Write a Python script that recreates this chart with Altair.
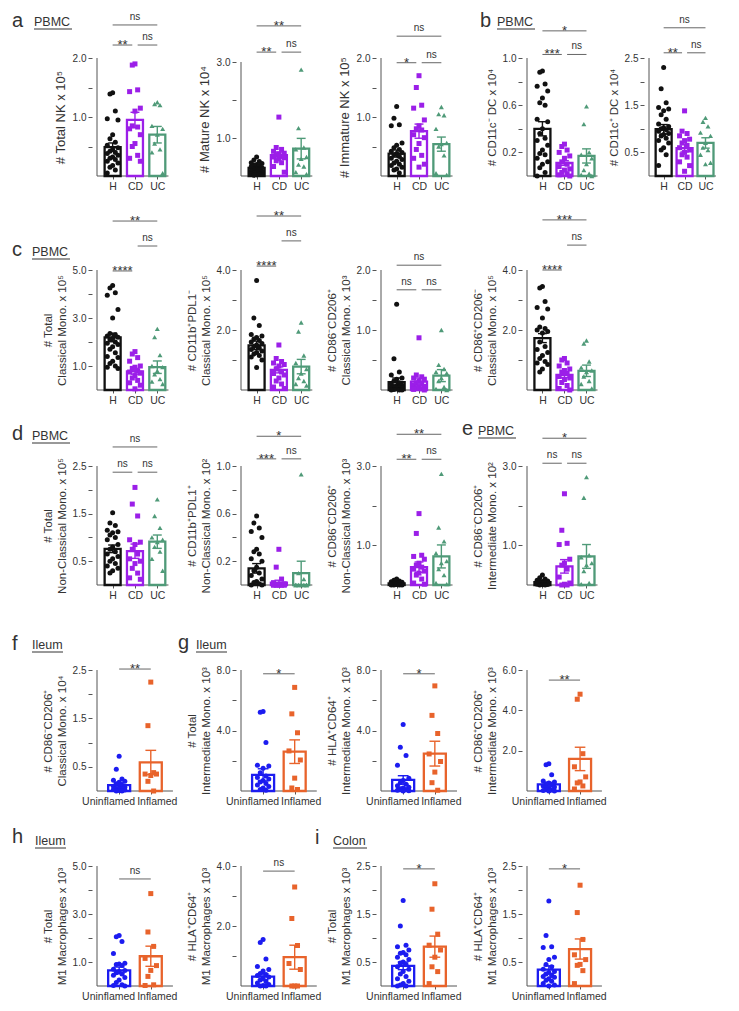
import json
import pandas as pd
import altair as alt

FONT = "Liberation Sans"
TXT = "#333333"
AX = "#555555"
BR = "#666666"

PBMC_GROUPS = ["H", "CD", "UC"]
GUT_GROUPS = ["Uninflamed", "Inflamed"]
COL3 = ["#111111", "#9b1fe8", "#4f9a78"]
SHP3 = ["circle", "square", "triangle-up"]
COL2 = ["#1c1cf0", "#e8632b"]
SHP2 = ["circle", "square"]

# ---------------- data ----------------
# a: PBMC NK
NK_TOTAL_H = [1.41, 1.39, 1.10, 0.97, 0.95, 0.70, 0.63, 0.57, 0.52, 0.48, 0.45, 0.42, 0.40, 0.38, 0.35, 0.32, 0.30, 0.28, 0.25, 0.22, 0.18, 0.15, 0.10, 0.05]
NK_TOTAL_CD = [1.90, 1.88, 1.46, 1.43, 1.15, 1.10, 0.85, 0.83, 0.80, 0.70, 0.55, 0.50, 0.35, 0.30, 0.25]
NK_TOTAL_UC = [1.25, 1.22, 1.20, 0.85, 0.80, 0.70, 0.55, 0.45, 0.40, 0.05]
NK_TOTAL_MEAN = [0.49, 0.95, 0.70]
NK_TOTAL_SEM = [0.07, 0.13, 0.14]

NK_MAT_H = [0.50, 0.42, 0.38, 0.35, 0.33, 0.30, 0.28, 0.26, 0.25, 0.22, 0.20, 0.18, 0.15, 0.13, 0.12, 0.10, 0.08, 0.06, 0.05, 0.04, 0.03, 0.02]
NK_MAT_CD = [1.55, 0.75, 0.70, 0.65, 0.60, 0.58, 0.55, 0.52, 0.50, 0.48, 0.45, 0.40, 0.35, 0.25, 0.10]
NK_MAT_UC = [2.80, 1.26, 0.75, 0.70, 0.50, 0.45, 0.30, 0.25, 0.10, 0.05]
NK_MAT_MEAN = [0.21, 0.55, 0.72]
NK_MAT_SEM = [0.03, 0.08, 0.27]

NK_IMM_H = [1.18, 0.98, 0.87, 0.85, 0.56, 0.52, 0.48, 0.45, 0.42, 0.40, 0.38, 0.36, 0.33, 0.30, 0.28, 0.25, 0.22, 0.20, 0.18, 0.15, 0.12, 0.10, 0.05]
NK_IMM_CD = [1.70, 1.50, 1.20, 1.15, 0.95, 0.85, 0.80, 0.78, 0.70, 0.65, 0.55, 0.45, 0.35, 0.30, 0.20, 0.15]
NK_IMM_UC = [1.17, 1.05, 1.03, 0.80, 0.56, 0.54, 0.50, 0.35, 0.05, 0.02]
NK_IMM_MEAN = [0.38, 0.76, 0.54]
NK_IMM_SEM = [0.06, 0.12, 0.12]

# b: PBMC DC
DC_NEG_H = [0.89, 0.88, 0.78, 0.76, 0.72, 0.66, 0.62, 0.60, 0.48, 0.46, 0.40, 0.36, 0.32, 0.30, 0.26, 0.22, 0.19, 0.18, 0.15, 0.12, 0.10, 0.07, 0.03, 0.00]
DC_NEG_CD = [0.27, 0.25, 0.22, 0.20, 0.17, 0.15, 0.12, 0.10, 0.08, 0.06, 0.05, 0.03, 0.02, 0.01, 0.00]
DC_NEG_UC = [0.59, 0.44, 0.20, 0.18, 0.15, 0.10, 0.05, 0.02, 0.01, 0.00]
DC_NEG_MEAN = [0.40, 0.11, 0.17]
DC_NEG_SEM = [0.06, 0.02, 0.06]

DC_POS_H = [2.30, 1.85, 1.55, 1.45, 1.42, 1.38, 1.30, 1.20, 1.10, 1.05, 1.02, 1.00, 0.98, 0.95, 0.90, 0.88, 0.85, 0.80, 0.75, 0.70, 0.60, 0.55, 0.45, 0.22]
DC_POS_CD = [1.38, 0.95, 0.90, 0.85, 0.78, 0.75, 0.70, 0.65, 0.60, 0.55, 0.50, 0.45, 0.40, 0.30, 0.22, 0.10]
DC_POS_UC = [1.23, 1.15, 1.05, 0.92, 0.85, 0.70, 0.60, 0.55, 0.45, 0.28, 0.25]
DC_POS_MEAN = [0.99, 0.59, 0.70]
DC_POS_SEM = [0.10, 0.08, 0.11]

# c: PBMC classical monocytes
CM_TOTAL_H = [4.35, 4.25, 4.05, 3.95, 3.35, 3.00, 2.35, 2.30, 2.25, 2.20, 2.15, 2.10, 2.00, 1.95, 1.90, 1.80, 1.70, 1.55, 1.40, 1.35, 1.20, 1.10, 1.00, 0.95, 0.90]
CM_TOTAL_CD = [1.60, 1.50, 1.35, 1.20, 1.00, 0.95, 0.90, 0.80, 0.75, 0.70, 0.60, 0.50, 0.40, 0.30, 0.20, 0.05]
CM_TOTAL_UC = [2.55, 2.20, 1.45, 1.00, 0.95, 0.80, 0.65, 0.45, 0.35, 0.25]
CM_TOTAL_MEAN = [2.19, 0.78, 0.95]
CM_TOTAL_SEM = [0.18, 0.12, 0.26]

CM_PDL1_H = [3.65, 2.40, 2.15, 1.85, 1.80, 1.75, 1.70, 1.65, 1.60, 1.55, 1.50, 1.45, 1.40, 1.35, 1.30, 1.25, 1.20, 1.15, 1.10, 1.00, 0.75]
CM_PDL1_CD = [1.50, 1.05, 0.95, 0.90, 0.85, 0.80, 0.70, 0.60, 0.55, 0.50, 0.40, 0.30, 0.20, 0.10, 0.05]
CM_PDL1_UC = [2.25, 1.95, 1.15, 0.90, 0.70, 0.55, 0.40, 0.30, 0.20, 0.15]
CM_PDL1_MEAN = [1.49, 0.67, 0.78]
CM_PDL1_SEM = [0.14, 0.10, 0.24]

CM_M2_H = [1.43, 0.52, 0.30, 0.25, 0.20, 0.18, 0.15, 0.12, 0.10, 0.08, 0.07, 0.06, 0.05, 0.04, 0.03, 0.02, 0.01, 0.00, 0.00, 0.00]
CM_M2_CD = [0.87, 0.25, 0.22, 0.20, 0.18, 0.15, 0.12, 0.10, 0.08, 0.06, 0.05, 0.03, 0.02, 0.01, 0.00]
CM_M2_UC = [1.00, 0.42, 0.35, 0.30, 0.28, 0.20, 0.15, 0.05, 0.02, 0.00]
CM_M2_MEAN = [0.13, 0.14, 0.24]
CM_M2_SEM = [0.07, 0.06, 0.10]

CM_M1_H = [3.45, 3.40, 2.95, 2.75, 2.70, 2.40, 2.10, 2.05, 2.00, 1.95, 1.90, 1.60, 1.45, 1.35, 1.25, 1.15, 1.05, 0.95, 0.90, 0.85, 0.70, 0.60]
CM_M1_CD = [1.05, 1.00, 0.90, 0.80, 0.70, 0.65, 0.60, 0.55, 0.45, 0.40, 0.35, 0.25, 0.15, 0.05, 0.00]
CM_M1_UC = [1.65, 1.55, 0.95, 0.75, 0.65, 0.60, 0.45, 0.30, 0.20, 0.05]
CM_M1_MEAN = [1.73, 0.50, 0.64]
CM_M1_SEM = [0.15, 0.09, 0.19]

# d: PBMC non-classical monocytes
NC_TOTAL_H = [1.52, 1.30, 1.25, 1.15, 1.12, 1.10, 1.05, 1.00, 0.95, 0.85, 0.80, 0.75, 0.70, 0.65, 0.60, 0.55, 0.50, 0.45, 0.40, 0.35, 0.30, 0.25]
NC_TOTAL_CD = [2.05, 1.70, 1.45, 0.95, 0.90, 0.85, 0.75, 0.65, 0.55, 0.50, 0.45, 0.35, 0.25, 0.15, 0.12]
NC_TOTAL_UC = [1.80, 1.45, 1.20, 1.00, 0.95, 0.90, 0.80, 0.70, 0.55, 0.30]
NC_TOTAL_MEAN = [0.76, 0.71, 0.91]
NC_TOTAL_SEM = [0.08, 0.15, 0.14]

NC_PDL1_H = [0.58, 0.52, 0.48, 0.45, 0.40, 0.30, 0.28, 0.26, 0.22, 0.20, 0.15, 0.12, 0.10, 0.08, 0.05, 0.03, 0.02, 0.01, 0.00, 0.00]
NC_PDL1_CD = [0.30, 0.15, 0.05, 0.02, 0.01, 0.00, 0.00, 0.00, 0.00, 0.00, 0.00, 0.00, 0.00, 0.00, 0.00]
NC_PDL1_UC = [0.93, 0.10, 0.05, 0.00, 0.00, 0.00, 0.00, 0.00, 0.00, 0.00]
NC_PDL1_MEAN = [0.14, 0.02, 0.10]
NC_PDL1_SEM = [0.04, 0.02, 0.10]

NC_M2_H = [0.15, 0.12, 0.10, 0.08, 0.07, 0.06, 0.05, 0.05, 0.04, 0.04, 0.03, 0.03, 0.02, 0.02, 0.01, 0.01, 0.00, 0.00, 0.00, 0.00]
NC_M2_CD = [1.80, 1.30, 0.75, 0.72, 0.65, 0.55, 0.50, 0.45, 0.40, 0.35, 0.30, 0.25, 0.15, 0.05, 0.02]
NC_M2_UC = [2.80, 1.45, 1.10, 0.80, 0.60, 0.55, 0.40, 0.25, 0.05, 0.02]
NC_M2_MEAN = [0.04, 0.45, 0.72]
NC_M2_SEM = [0.01, 0.13, 0.29]

# e: PBMC intermediate monocytes
IM_M2_H = [0.25, 0.18, 0.15, 0.12, 0.10, 0.09, 0.08, 0.07, 0.06, 0.05, 0.04, 0.03, 0.02, 0.02, 0.01, 0.01, 0.00, 0.00]
IM_M2_CD = [2.30, 1.38, 1.05, 1.02, 0.65, 0.55, 0.50, 0.40, 0.20, 0.05, 0.02, 0.00, 0.00]
IM_M2_UC = [2.72, 2.20, 0.75, 0.70, 0.55, 0.50, 0.35, 0.05, 0.02]
IM_M2_MEAN = [0.07, 0.47, 0.72]
IM_M2_SEM = [0.02, 0.17, 0.30]

# f, g: ileum monocytes
IL_CM_M2_UN = [0.72, 0.45, 0.25, 0.22, 0.20, 0.18, 0.15, 0.12, 0.10, 0.08, 0.06, 0.05, 0.04, 0.03, 0.02, 0.01, 0.00, 0.00]
IL_CM_M2_IN = [2.25, 1.35, 0.38, 0.35, 0.35, 0.32, 0.20, 0.00]
IL_CM_M2_MEAN = [0.12, 0.59]
IL_CM_M2_SEM = [0.05, 0.25]

IL_IM_TOTAL_UN = [5.25, 5.20, 3.20, 1.70, 1.65, 1.50, 1.20, 1.00, 0.90, 0.80, 0.70, 0.60, 0.50, 0.40, 0.30, 0.20, 0.10, 0.05]
IL_IM_TOTAL_IN = [6.85, 5.10, 3.85, 2.65, 2.05, 0.85, 0.20, 0.10]
IL_IM_TOTAL_MEAN = [1.07, 2.60]
IL_IM_TOTAL_SEM = [0.40, 0.78]

IL_IM_HLA_UN = [4.40, 2.90, 2.35, 1.70, 0.85, 0.70, 0.55, 0.45, 0.35, 0.25, 0.20, 0.15, 0.10, 0.05, 0.02, 0.00]
IL_IM_HLA_IN = [6.95, 5.00, 3.80, 2.45, 1.95, 1.25, 0.55, 0.05]
IL_IM_HLA_MEAN = [0.73, 2.47]
IL_IM_HLA_SEM = [0.28, 0.82]

IL_IM_M1_UN = [1.35, 1.30, 0.80, 0.50, 0.45, 0.40, 0.35, 0.30, 0.25, 0.20, 0.15, 0.10, 0.05, 0.02, 0.00, 0.00]
IL_IM_M1_IN = [4.80, 4.55, 1.85, 1.20, 0.70, 0.45, 0.40, 0.25, 0.10]
IL_IM_M1_MEAN = [0.33, 1.59]
IL_IM_M1_SEM = [0.10, 0.58]

# h, i: M1 macrophages
IL_MAC_TOTAL_UN = [2.10, 2.05, 1.85, 1.35, 0.95, 0.92, 0.90, 0.85, 0.70, 0.65, 0.60, 0.55, 0.50, 0.45, 0.35, 0.25, 0.15, 0.05, 0.02, 0.00]
IL_MAC_TOTAL_IN = [3.85, 2.25, 1.65, 1.15, 0.85, 0.65, 0.40, 0.05, 0.02]
IL_MAC_TOTAL_MEAN = [0.65, 1.24]
IL_MAC_TOTAL_SEM = [0.14, 0.42]

IL_MAC_HLA_UN = [1.55, 1.45, 0.90, 0.65, 0.55, 0.50, 0.42, 0.38, 0.35, 0.30, 0.25, 0.20, 0.15, 0.10, 0.05, 0.02, 0.00, 0.00]
IL_MAC_HLA_IN = [3.30, 2.25, 1.35, 0.75, 0.55, 0.00, 0.00, 0.00]
IL_MAC_HLA_MEAN = [0.31, 0.96]
IL_MAC_HLA_SEM = [0.10, 0.40]

CO_MAC_TOTAL_UN = [1.78, 1.25, 0.85, 0.82, 0.75, 0.70, 0.68, 0.65, 0.60, 0.55, 0.50, 0.48, 0.45, 0.40, 0.35, 0.30, 0.25, 0.20, 0.15, 0.10, 0.05, 0.02, 0.00, 0.00]
CO_MAC_TOTAL_IN = [2.13, 1.60, 1.08, 0.85, 0.75, 0.60, 0.40, 0.30, 0.05]
CO_MAC_TOTAL_MEAN = [0.42, 0.82]
CO_MAC_TOTAL_SEM = [0.08, 0.22]

CO_MAC_HLA_UN = [1.77, 1.05, 0.82, 0.80, 0.60, 0.55, 0.45, 0.40, 0.35, 0.30, 0.28, 0.25, 0.22, 0.20, 0.18, 0.15, 0.12, 0.10, 0.05, 0.02, 0.00]
CO_MAC_HLA_IN = [2.10, 1.53, 0.97, 0.65, 0.55, 0.45, 0.43, 0.32, 0.05]
CO_MAC_HLA_MEAN = [0.34, 0.77]
CO_MAC_HLA_SEM = [0.08, 0.21]

# ---------------- panel definitions ----------------
def P(title, groups, points, means, sems, top, ticks, labeled, sig, tfs=11.5, annot=(), ext=None):
    return dict(title=title, groups=groups, points=points, means=means, sems=sems, top=top,
                ticks=ticks, labeled=labeled, sig=sig, tfs=tfs, annot=list(annot), ext=ext)

T25 = [0.5, 1.0, 1.5, 2.0, 2.5]
T20 = [0.5, 1.0, 1.5, 2.0]
T10 = [0.2, 0.4, 0.6, 0.8, 1.0]
T30 = [1.0, 2.0, 3.0]
T40 = [1.0, 2.0, 3.0, 4.0]
T50 = [1.0, 2.0, 3.0, 4.0, 5.0]

ROW1 = [
    P(["# Total NK x 10⁵"], PBMC_GROUPS, [NK_TOTAL_H, NK_TOTAL_CD, NK_TOTAL_UC], NK_TOTAL_MEAN, NK_TOTAL_SEM,
      2.0, T20, [1.0, 2.0], [(0, 2, "ns", 2.56), (0, 1, "**", 2.22), (1, 2, "ns", 2.22)], tfs=13,
      annot=[("a", -80, -31, 20, 0), ("PBMC", -58, -32, 12.5, 38)]),
    P(["# Mature NK x 10⁴"], PBMC_GROUPS, [NK_MAT_H, NK_MAT_CD, NK_MAT_UC], NK_MAT_MEAN, NK_MAT_SEM,
      3.0, T30, [1.0, 3.0], [(0, 2, "**", 3.95), (0, 1, "**", 3.26), (1, 2, "ns", 3.26)], tfs=13, ext=4),
    P(["# Immature NK x 10⁵"], PBMC_GROUPS, [NK_IMM_H, NK_IMM_CD, NK_IMM_UC], NK_IMM_MEAN, NK_IMM_SEM,
      2.0, T20, [1.0, 2.0], [(0, 2, "ns", 2.37), (0, 1, "*", 1.92), (1, 2, "ns", 1.92)], tfs=13),
    P(["# CD11c⁻ DC x 10⁴"], PBMC_GROUPS, [DC_NEG_H, DC_NEG_CD, DC_NEG_UC], DC_NEG_MEAN, DC_NEG_SEM,
      1.0, T10, [0.2, 0.6, 1.0], [(0, 2, "*", 1.23), (0, 1, "***", 1.03), (1, 2, "ns", 1.03)],
      annot=[("b", -42, -31, 20, 0), ("PBMC", -25, -32, 12.5, 38)]),
    P(["# CD11c⁺ DC x 10⁴"], PBMC_GROUPS, [DC_POS_H, DC_POS_CD, DC_POS_UC], DC_POS_MEAN, DC_POS_SEM,
      2.5, T25, [0.5, 1.5, 2.5], [(0, 2, "ns", 3.14), (0, 1, "**", 2.61), (1, 2, "ns", 2.61)]),
]
ROW2 = [
    P(["# Total", "Classical Mono. x 10⁵"], PBMC_GROUPS, [CM_TOTAL_H, CM_TOTAL_CD, CM_TOTAL_UC], CM_TOTAL_MEAN, CM_TOTAL_SEM,
      5.0, T50, [1.0, 3.0, 5.0], [(0, 2, "**", 7.04), (1, 2, "ns", 6.0), (0, 1, "****", 4.96)],
      annot=[("c", -80, 5, 20, 0), ("PBMC", -60, 5, 12.5, 38)]),
    P(["# CD11b⁺PDL1⁻", "Classical Mono. x 10⁵"], PBMC_GROUPS, [CM_PDL1_H, CM_PDL1_CD, CM_PDL1_UC], CM_PDL1_MEAN, CM_PDL1_SEM,
      4.0, T40, [2.0, 4.0], [(0, 2, "**", 5.8), (1, 2, "ns", 4.97), (0, 1, "****", 4.13)]),
    P(["# CD86⁻CD206⁺", "Classical Mono. x 10³"], PBMC_GROUPS, [CM_M2_H, CM_M2_CD, CM_M2_UC], CM_M2_MEAN, CM_M2_SEM,
      2.0, T20, [1.0, 2.0], [(0, 2, "ns", 2.08), (0, 1, "ns", 1.67), (1, 2, "ns", 1.67)]),
    P(["# CD86⁺CD206⁻", "Classical Mono. x 10⁵"], PBMC_GROUPS, [CM_M1_H, CM_M1_CD, CM_M1_UC], CM_M1_MEAN, CM_M1_SEM,
      4.0, T40, [2.0, 4.0], [(0, 2, "***", 5.67), (1, 2, "ns", 4.83), (0, 1, "****", 4.0)]),
]
ROW3 = [
    P(["# Total", "Non-Classical Mono. x 10⁵"], PBMC_GROUPS, [NC_TOTAL_H, NC_TOTAL_CD, NC_TOTAL_UC], NC_TOTAL_MEAN, NC_TOTAL_SEM,
      2.5, T25, [0.5, 1.5, 2.5], [(0, 2, "ns", 2.90), (0, 1, "ns", 2.37), (1, 2, "ns", 2.37)],
      annot=[("d", -80, -25, 20, 0), ("PBMC", -60, -25, 12.5, 38)]),
    P(["# CD11b⁺PDL1⁺", "Non-Classical Mono. x 10²"], PBMC_GROUPS, [NC_PDL1_H, NC_PDL1_CD, NC_PDL1_UC], NC_PDL1_MEAN, NC_PDL1_SEM,
      1.0, T10, [0.2, 0.6, 1.0], [(0, 2, "*", 1.25), (0, 1, "***", 1.06), (1, 2, "ns", 1.06)]),
    P(["# CD86⁻CD206⁺", "Non-Classical Mono. x 10³"], PBMC_GROUPS, [NC_M2_H, NC_M2_CD, NC_M2_UC], NC_M2_MEAN, NC_M2_SEM,
      3.0, T30, [1.0, 3.0], [(0, 2, "**", 3.80), (0, 1, "**", 3.17), (1, 2, "ns", 3.17)]),
    P(["# CD86⁻CD206⁺", "Intermediate Mono.  x 10²"], PBMC_GROUPS, [IM_M2_H, IM_M2_CD, IM_M2_UC], IM_M2_MEAN, IM_M2_SEM,
      3.0, T30, [1.0, 3.0], [(0, 2, "*", 3.70), (0, 1, "ns", 3.07), (1, 2, "ns", 3.07)],
      annot=[("e", -60, -30, 20, 0), ("PBMC", -44, -30, 12.5, 38)]),
]
ROW4 = [
    P(["# CD86⁻CD206⁺", "Classical Mono. x 10⁴"], GUT_GROUPS, [IL_CM_M2_UN, IL_CM_M2_IN], IL_CM_M2_MEAN, IL_CM_M2_SEM,
      2.5, T25, [0.5, 1.5, 2.5], [(0, 1, "**", 2.52)],
      annot=[("f", -80, -10, 20, 0), ("Ileum", -60, -11, 12.5, 31)]),
    P(["# Total", "Intermediate Mono. x 10³"], GUT_GROUPS, [IL_IM_TOTAL_UN, IL_IM_TOTAL_IN], IL_IM_TOTAL_MEAN, IL_IM_TOTAL_SEM,
      8.0, [2.0, 4.0, 6.0, 8.0], [4.0, 8.0], [(0, 1, "*", 7.75)],
      annot=[("g", -58, -11, 20, 0), ("Ileum", -40, -11, 12.5, 31)]),
    P(["# HLA⁺CD64⁺", "Intermediate Mono. x 10³"], GUT_GROUPS, [IL_IM_HLA_UN, IL_IM_HLA_IN], IL_IM_HLA_MEAN, IL_IM_HLA_SEM,
      8.0, [2.0, 4.0, 6.0, 8.0], [4.0, 8.0], [(0, 1, "*", 7.75)]),
    P(["# CD86⁺CD206⁺", "Intermediate Mono. x 10³"], GUT_GROUPS, [IL_IM_M1_UN, IL_IM_M1_IN], IL_IM_M1_MEAN, IL_IM_M1_SEM,
      6.0, [2.0, 4.0, 6.0], [2.0, 4.0, 6.0], [(0, 1, "**", 5.5)]),
]
ROW5 = [
    P(["# Total", "M1 Macrophages x 10³"], GUT_GROUPS, [IL_MAC_TOTAL_UN, IL_MAC_TOTAL_IN], IL_MAC_TOTAL_MEAN, IL_MAC_TOTAL_SEM,
      5.0, T50, [1.0, 3.0, 5.0], [(0, 1, "ns", 4.46)],
      annot=[("h", -80, -23, 20, 0), ("Ileum", -57, -21, 12.5, 31)]),
    P(["# HLA⁺CD64⁺", "M1 Macrophages x 10³"], GUT_GROUPS, [IL_MAC_HLA_UN, IL_MAC_HLA_IN], IL_MAC_HLA_MEAN, IL_MAC_HLA_SEM,
      4.0, T40, [2.0, 4.0], [(0, 1, "ns", 3.83)]),
    P(["# Total", "M1 Macrophages x 10³"], GUT_GROUPS, [CO_MAC_TOTAL_UN, CO_MAC_TOTAL_IN], CO_MAC_TOTAL_MEAN, CO_MAC_TOTAL_SEM,
      2.5, T25, [0.5, 1.5, 2.5], [(0, 1, "*", 2.44)],
      annot=[("i", -61, -22, 20, 0), ("Colon", -43, -21, 12.5, 34)]),
    P(["# HLA⁺CD64⁺", "M1 Macrophages x 10³"], GUT_GROUPS, [CO_MAC_HLA_UN, CO_MAC_HLA_IN], CO_MAC_HLA_MEAN, CO_MAC_HLA_SEM,
      2.5, T25, [0.5, 1.5, 2.5], [(0, 1, "*", 2.44)]),
]

COL_W = [144, 140, 146, 122, 78]
ROW_H = [118, 139, 120, 131, 120]
ROW_EXT = [0, 19, 1, 10, 0]


def make_panel(p, width, height, ext):
    groups = p["groups"]
    n = len(groups)
    three = n == 3
    ppu = 24.0 if three else 34.0
    xmin = -0.7
    xmax = xmin + width / ppu
    xend = (n - 1) + (0.5 if three else 0.7)
    top = p["top"]
    ymax = top * height / (height - ext)
    colors = COL3 if three else COL2
    shapes = SHP3 if three else SHP2
    bw = 16 if three else 22
    cap = 0.2 if three else 0.17
    jit = 0.12 if three else 0.09

    xs = alt.Scale(domain=[xmin, xmax], nice=False, zero=False)
    ys = alt.Scale(domain=[0, ymax], nice=False, zero=False)
    xkw = dict(values=list(range(n)), labelExpr=f"{json.dumps(groups)}[datum.value]",
               domain=False, grid=False, tickSize=3, tickColor=AX, labelFontSize=10.5,
               labelColor=TXT, labelPadding=2, labelOverlap=False, labelFlush=False,
               labelBound=False, title=None)
    if not three:
        xkw["labelOffset"] = {"condition": {"test": "datum.value == 0", "value": -11}, "value": 6}
    xaxis = alt.Axis(**xkw)
    yaxis = alt.Axis(values=p["ticks"],
                     labelExpr=f"indexof({json.dumps(p['labeled'])}, datum.value) >= 0 ? format(datum.value, '.1f') : ''",
                     domain=False, grid=False, tickSize=4, tickColor=AX, labelFontSize=10,
                     labelColor=TXT, labelPadding=2, title=p["title"], titleFontSize=p["tfs"],
                     titleFontWeight="normal", titleColor=TXT, titlePadding=5,
                     titleLineHeight=14, titleY=ext + (height - ext) / 2)

    def X(f):
        return alt.X(f, type="quantitative", scale=xs, axis=xaxis)

    def Y(f):
        return alt.Y(f, type="quantitative", scale=ys, axis=yaxis)

    stroke = alt.Stroke("g:N", scale=alt.Scale(domain=groups, range=colors), legend=None)

    adf = pd.DataFrame({"ax0": [xmin], "ax1": [xend], "ay0": [0.0], "ayt": [top]})
    xline = alt.Chart(adf).mark_rule(color=AX, strokeWidth=1).encode(x=X("ax0"), x2="ax1:Q", y=Y("ay0"))
    yline = alt.Chart(adf).mark_rule(color=AX, strokeWidth=1).encode(x=X("ax0"), y=Y("ay0"), y2="ayt:Q")

    bdf = pd.DataFrame({"g": groups, "pos": list(range(n)), "mean": p["means"], "sem": p["sems"]})
    base = alt.Chart(bdf).transform_calculate(
        lo="max(0, datum.mean - datum.sem)", hi="datum.mean + datum.sem",
        xl=f"datum.pos - {cap}", xr=f"datum.pos + {cap}", zero="0")
    bars = base.mark_bar(size=bw, fill="white", strokeWidth=2.3).encode(
        x=X("pos"), y=Y("mean"), y2="zero:Q", stroke=stroke)
    err = base.mark_rule(strokeWidth=1.4).encode(x=X("pos"), y=Y("lo"), y2="hi:Q", stroke=stroke)
    capt = base.mark_rule(strokeWidth=1.4).encode(x=X("xl"), x2="xr:Q", y=Y("hi"), stroke=stroke)
    capb = base.mark_rule(strokeWidth=1.4).encode(x=X("xl"), x2="xr:Q", y=Y("lo"), stroke=stroke)

    rows = []
    for gi, (g, vals) in enumerate(zip(groups, p["points"])):
        for v in vals:
            rows.append({"g": g, "pos": gi, "v": v})
    pdf = pd.DataFrame(rows)
    pts = alt.Chart(pdf).transform_window(
        r="row_number()", groupby=["g"], sort=[alt.SortField("v", order="descending")]
    ).transform_calculate(
        d="(datum.r - 1) % 5",
        px=f"datum.pos + {jit} * (datum.d % 2 == 1 ? -1 : 1) * ceil(datum.d / 2)",
    ).mark_point(filled=True, size=25, opacity=1, strokeWidth=0).encode(
        x=X("px"), y=Y("v"),
        color=alt.Color("g:N", scale=alt.Scale(domain=groups, range=colors), legend=None),
        shape=alt.Shape("g:N", scale=alt.Scale(domain=groups, range=shapes), legend=None),
    )

    srows = []
    for (i, j, lab, lvl) in p["sig"]:
        x1, x2 = float(i), float(j)
        if three and j - i == 1:
            if i > 0:
                x1 += 0.12
            if j < n - 1:
                x2 -= 0.12
        srows.append({"s1": x1, "s2": x2, "sm": (x1 + x2) / 2, "sy": lvl, "lab": lab})
    sdf = pd.DataFrame(srows)
    brk = alt.Chart(sdf).mark_rule(color=BR, strokeWidth=1).encode(x=X("s1"), x2="s2:Q", y=Y("sy"))
    tns = alt.Chart(sdf).transform_filter("datum.lab == 'ns'").mark_text(
        fontSize=10, dy=-5, baseline="alphabetic", color=TXT).encode(x=X("sm"), y=Y("sy"), text="lab:N")
    tst = alt.Chart(sdf).transform_filter("datum.lab != 'ns'").mark_text(
        fontSize=13, dy=4, baseline="alphabetic", color=TXT).encode(x=X("sm"), y=Y("sy"), text="lab:N")

    layers = [xline, yline, bars, pts, err, capt, capb, brk, tns, tst]
    for (txt, rx, ry, fs, uw) in p["annot"]:
        layers.append(
            alt.Chart(pd.DataFrame({"t": [txt]})).mark_text(
                align="left", baseline="alphabetic", fontSize=fs, color=TXT
            ).encode(x=alt.value(rx), y=alt.value(ry), text="t:N")
        )
        if uw:
            layers.append(
                alt.Chart(pd.DataFrame({"t": [txt]})).mark_rule(color=TXT, strokeWidth=1).encode(
                    x=alt.value(rx), x2=alt.value(rx + uw), y=alt.value(ry + 3))
            )
    return alt.layer(*layers).properties(width=width, height=height)


def blank(h):
    return alt.Chart(pd.DataFrame({"z": [0]})).mark_point(opacity=0).encode(
        x=alt.X("z:Q", axis=None), y=alt.Y("z:Q", axis=None)).properties(width=10, height=h)


cells = []
for ri, row in enumerate([ROW1, ROW2, ROW3, ROW4, ROW5]):
    for ci in range(5):
        if ci < len(row):
            p = row[ci]
            ext = p["ext"] if p["ext"] is not None else ROW_EXT[ri]
            cells.append(make_panel(p, COL_W[ci], ROW_H[ri], ext))
        else:
            cells.append(blank(ROW_H[ri]))

chart = alt.concat(*cells, columns=5, spacing={"row": 75, "column": 0}, bounds="flush").resolve_scale(
    x="independent", y="independent", color="independent", stroke="independent", shape="independent"
).properties(
    padding={"left": 4, "top": 3, "right": 4, "bottom": 4}
).configure(font=FONT).configure_view(stroke=None).configure_axis(labelFont=FONT, titleFont=FONT)

chart.save("out.html", embed_options={"renderer": "svg", "actions": False})
